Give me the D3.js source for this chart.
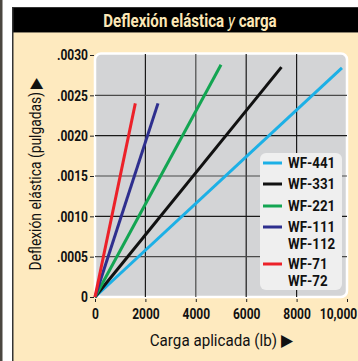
<!DOCTYPE html>
<html>
<head>
<meta charset="utf-8">
<script src="https://cdn.jsdelivr.net/npm/d3@7"></script>
<style>
  html, body { margin: 0; padding: 0; background: #fff; }
  svg { display: block; }
  text { font-family: "Roboto", "Liberation Sans", sans-serif; }
</style>
</head>
<body>
<script>
// Deflection vs. applied load for each model
const series = ["WF-441", "WF-331", "WF-221", "WF-111", "WF-71"];
const legendLabels = [["WF-441"], ["WF-331"], ["WF-221"], ["WF-111", "WF-112"], ["WF-71", "WF-72"]];
const colors = ["#1cb0e6", "#111111", "#13a552", "#2e2f8e", "#ec2129"];
const maxLoad = [9800, 7400, 5000, 2500, 1600];          // lb
const maxDeflection = [0.00284, 0.00285, 0.00288, 0.0024, 0.0024]; // in
const xTicks = [0, 2000, 4000, 6000, 8000, 10000];
const xTickLabels = ["0", "2000", "4000", "6000", "8000", "10,000"];
const yTicks = [0, 0.0005, 0.001, 0.0015, 0.002, 0.0025, 0.003];
const yTickLabels = ["0", ".0005", ".0010", ".0015", ".0020", ".0025", ".0030"];

const W = 358, H = 361;
const svg = d3.select("body").append("svg").attr("width", W).attr("height", H);

// Narrow the glyphs horizontally around the text's own anchor point
function condense(sel, k) {
  sel.each(function () {
    const t = d3.select(this);
    const tx = +t.attr("x") || 0, ty = +t.attr("y") || 0;
    t.attr("transform", `translate(${tx},${ty}) scale(${k},1) translate(${-tx},${-ty})`);
  });
}

// Frame: outer strip, header bar and cream panel
svg.append("rect").attr("x", 0).attr("y", 0).attr("width", 2.5).attr("height", H).attr("fill", "#4b4640");
svg.append("rect").attr("x", 12).attr("y", 7).attr("width", W - 12).attr("height", H - 7).attr("fill", "#333");
svg.append("rect").attr("x", 13.5).attr("y", 8).attr("width", W - 13.5).attr("height", 24.5).attr("fill", "#000");
svg.append("rect").attr("x", 13.5).attr("y", 32.5).attr("width", W - 13.5).attr("height", H - 32.5).attr("fill", "#feeabf");

const title = svg.append("text")
  .attr("x", 190).attr("y", 27).attr("text-anchor", "middle")
  .attr("fill", "#fce7b6").attr("font-weight", "bold").attr("font-size", 18);
title.append("tspan").text("Deflexión elástica ");
title.append("tspan").attr("font-style", "italic").attr("font-weight", "normal").text("y");
title.append("tspan").text(" carga");
condense(title, 0.84);

const x = d3.scaleLinear().domain([0, 10000]).range([95, 347]);
const y = d3.scaleLinear().domain([0, 0.003]).range([297, 55]);

// Plot background
svg.append("rect")
  .attr("x", x(0)).attr("y", y(0.003) - 1.5)
  .attr("width", x(10000) - x(0)).attr("height", y(0) - y(0.003) + 1.5)
  .attr("rx", 6).attr("fill", "#d3d4d6").attr("stroke", "#fff").attr("stroke-width", 2.5);

// Grid lines
const g = svg.append("g");
g.selectAll(".vg").data([2000, 4000, 6000, 8000]).join("line")
  .attr("x1", d => x(d)).attr("x2", d => x(d))
  .attr("y1", y(0.003) - 1).attr("y2", y(0))
  .attr("stroke", (d, i) => i === 1 ? "#4a4a4a" : "#1a1a1a").attr("stroke-width", 1.2);
g.selectAll(".hg").data([0.0005, 0.001, 0.0015, 0.002, 0.0025]).join("line")
  .attr("x1", x(0)).attr("x2", x(10000))
  .attr("y1", d => y(d)).attr("y2", d => y(d))
  .attr("stroke", (d, i) => i % 2 === 0 ? "#4a4a4a" : "#1a1a1a").attr("stroke-width", 1.2);

// Axes
const yAxis = d3.axisLeft(y).tickValues(yTicks).tickFormat((d, i) => yTickLabels[i])
  .tickSize(4).tickPadding(2);
const ya = svg.append("g").attr("transform", `translate(${x(0) - 1},0)`).call(yAxis);
ya.select(".domain").remove();
ya.selectAll("line").attr("stroke", "#222");
ya.selectAll("text").attr("font-size", 15).attr("font-weight", "bold").attr("fill", "#111")
  .attr("font-family", "Roboto").call(condense, 0.8);

const xAxis = d3.axisBottom(x).tickValues(xTicks).tickFormat((d, i) => xTickLabels[i])
  .tickSize(3).tickPadding(6);
const xa = svg.append("g").attr("transform", `translate(0,${y(0) + 2})`).call(xAxis);
xa.select(".domain").remove();
xa.selectAll("line").attr("stroke", "#222");
xa.selectAll("text").attr("font-size", 15).attr("font-weight", "bold").attr("fill", "#111")
  .attr("font-family", "Roboto")
  .attr("x", (d, i) => i === xTicks.length - 1 ? -9 : 0)
  .call(condense, 0.8);

// Data lines from the origin
svg.append("g").selectAll("line").data(series).join("line")
  .attr("x1", x(0)).attr("y1", y(0))
  .attr("x2", (d, i) => x(maxLoad[i])).attr("y2", (d, i) => y(maxDeflection[i]))
  .attr("stroke", (d, i) => colors[i]).attr("stroke-width", 3);

// Legend
const lg = svg.append("g");
lg.append("rect").attr("x", 260).attr("y", 153).attr("width", 82).attr("height", 137)
  .attr("rx", 6).attr("fill", "#efefef");
const rowY = [163, 184, 206, 227, 264];
legendLabels.forEach((labels, i) => {
  lg.append("line").attr("x1", 263).attr("x2", 282).attr("y1", rowY[i]).attr("y2", rowY[i])
    .attr("stroke", colors[i]).attr("stroke-width", 3);
  labels.forEach((t, j) => {
    lg.append("text").attr("x", 288).attr("y", rowY[i] + 5.5 + j * 17)
      .attr("font-size", 14.5).attr("font-weight", "bold").attr("fill", "#111").text(t)
      .call(condense, 0.92);
  });
});

// Axis titles
const yt = svg.append("text")
  .attr("x", 0).attr("y", 0).attr("text-anchor", "middle")
  .attr("font-size", 16.5).attr("fill", "#111").text("Deflexión elástica (pulgadas) ▶");
yt.attr("transform", "translate(41,174) rotate(-90) scale(0.84,1)");
const xt = svg.append("text")
  .attr("x", 221).attr("y", 346).attr("text-anchor", "middle")
  .attr("font-size", 16.5).attr("fill", "#111").text("Carga aplicada (lb) ▶");
condense(xt, 0.92);
</script>
</body>
</html>
